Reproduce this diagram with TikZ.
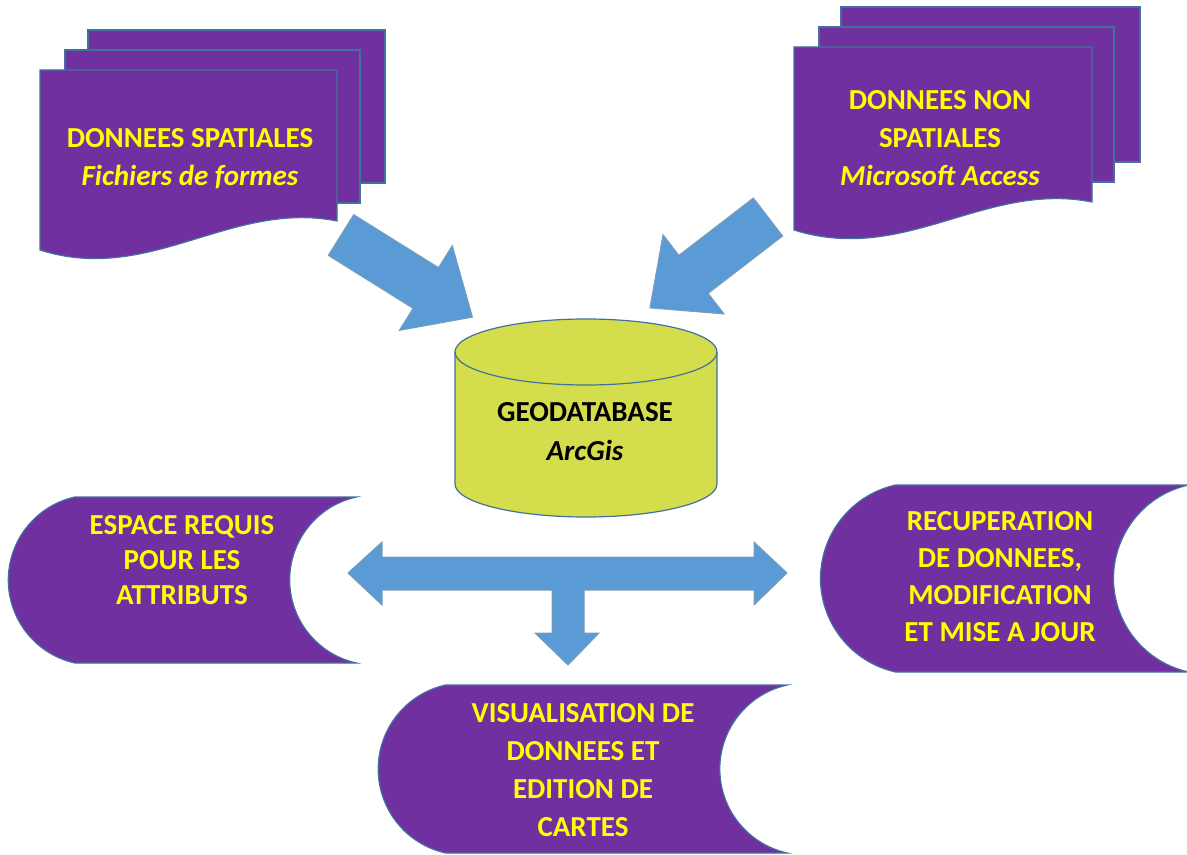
\documentclass[tikz,border=0pt]{standalone}
\usepackage{fontspec}
\setmainfont{Carlito}
\usetikzlibrary{shapes.misc}
\definecolor{violetbox}{HTML}{7030A0}
\definecolor{bluearrow}{HTML}{5B9BD5}
\definecolor{blueline}{HTML}{41719C}
\definecolor{dbgreen}{RGB}{212,222,76}
\definecolor{labelyellow}{HTML}{FFFF00}

\begin{document}
\begin{tikzpicture}[
    x=0.5pt, y=-0.5pt,
    sheet/.style={fill=violetbox, draw=blueline, line width=0.6pt},
    blockarrow/.style={fill=bluearrow, draw=blueline!70, line width=0.5pt, line join=miter},
    storedbox/.style={rounded rectangle, rounded rectangle right arc=concave,
        rounded rectangle arc length=155, fill=violetbox, draw=blueline,
        line width=0.6pt, inner sep=0pt},
    boxtext/.style={align=center, text=labelyellow, font=\bfseries\fontsize{14.5pt}{19pt}\selectfont}
]
   \useasboundingbox (0,0) rectangle (1187,855);

   % Block arrows
   \coordinate (tailL) at (341,235);
   \coordinate (tailR) at (768,217);
   \draw[blockarrow, shift={(tailL)}, rotate=-32]
      (0,-24) -- (100,-24) -- (100,-50) -- (155,0) -- (100,50) -- (100,24) -- (0,24) -- cycle;
   \draw[blockarrow, shift={(tailR)}, rotate=-142.4]
      (0,-24) -- (94,-24) -- (94,-50) -- (149,0) -- (94,50) -- (94,24) -- (0,24) -- cycle;
   \draw[blockarrow]
      (348,573) -- (382,542) -- (382,557) -- (754,557) -- (754,542) -- (787,573)
      -- (754,605) -- (754,590) -- (584,590) -- (584,633) -- (599,633) -- (568,665)
      -- (535,633) -- (552,633) -- (552,590) -- (382,590) -- (382,605) -- cycle;

   % Spatial data sheets
   \draw[sheet] (88,30) rectangle (385,183);
   \draw[sheet] (65,50) rectangle (360,203);
   \draw[sheet] (40,70) -- (337,70) -- (337,221) .. controls (230,200) and (150,285) .. (40,250) -- cycle;
   \node[boxtext] (spatial) at (190,159) {DONNEES SPATIALES\\\textit{Fichiers de formes}};

   % Non spatial data sheets
   \draw[sheet] (841,7) rectangle (1140,162);
   \draw[sheet] (819,27) rectangle (1114,182);
   \draw[sheet] (794,47) -- (1092,47) -- (1092,202) .. controls (985,181) and (905,265) .. (794,230) -- cycle;
   \node[boxtext] (nonspatial) at (940,138) {DONNEES NON\\SPATIALES\\\textit{Microsoft Access}};

   % Geodatabase
   \draw[fill=dbgreen, draw=blueline, line width=0.6pt]
      (455,352) -- (455,484) arc[start angle=180, end angle=0, x radius=131, y radius=33]
      -- (717,352) arc[start angle=0, end angle=-180, x radius=131, y radius=33] -- cycle;
   \draw[blueline, line width=0.6pt] (455,352) arc[start angle=180, end angle=0, x radius=131, y radius=33];
   \node[align=center, font=\bfseries\fontsize{14.5pt}{19.5pt}\selectfont] (geodb) at (585,432) {GEODATABASE\\\textit{ArcGis}};

   % Stored data boxes
   \node[storedbox, minimum width=174pt, minimum height=83pt] (espacebox) at (149,580) {};
   \node[boxtext, font=\bfseries\fontsize{14.5pt}{17.5pt}\selectfont] (espace) at (182,560) {ESPACE REQUIS\\POUR LES\\ATTRIBUTS};
   \node[storedbox, minimum width=184pt, minimum height=93.5pt] (recupbox) at (967,578.5) {};
   \node[boxtext, font=\bfseries\fontsize{14.5pt}{18.5pt}\selectfont] (recup) at (1000,577) {RECUPERATION\\DE DONNEES,\\MODIFICATION\\ET MISE A JOUR};
   \node[storedbox, minimum width=204.5pt, minimum height=84pt] (visubox) at (549,769) {};
   \node[boxtext] (visu) at (583,770) {VISUALISATION DE\\DONNEES ET\\EDITION DE\\CARTES};
\end{tikzpicture}
\end{document}
